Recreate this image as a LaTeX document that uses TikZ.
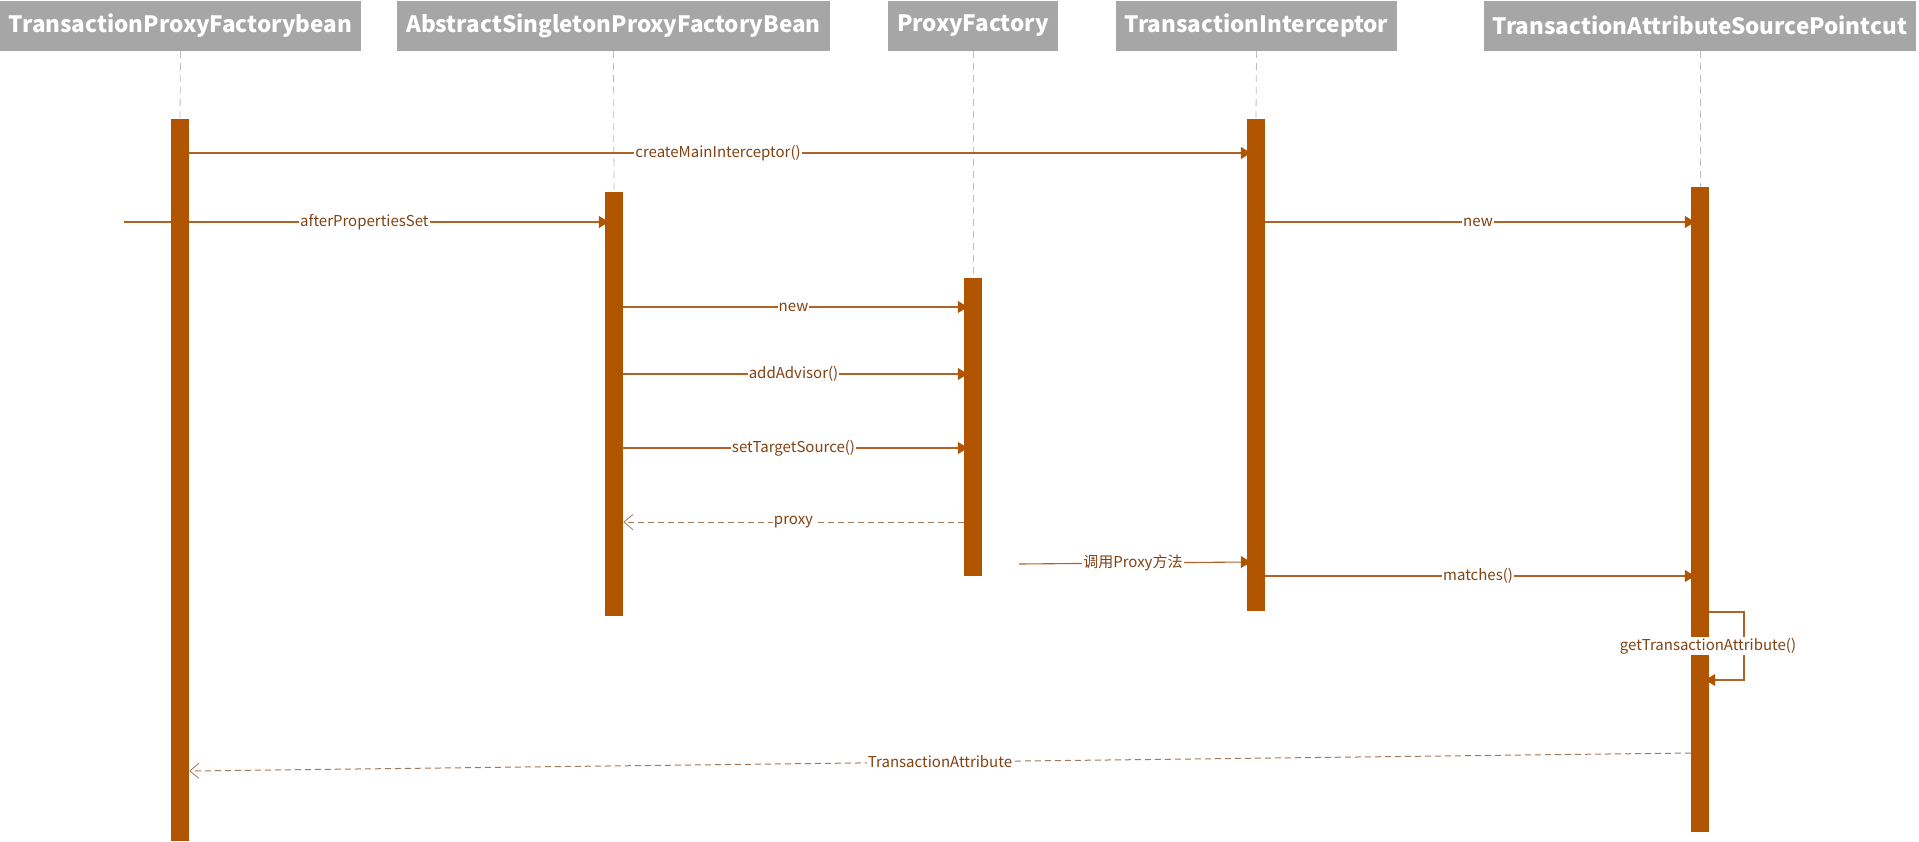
\documentclass[tikz,border=0pt]{standalone}
\usepackage{fontspec}
\setmainfont{Noto Sans CJK SC}
\usetikzlibrary{arrows.meta,positioning,calc,backgrounds}
\definecolor{hdrgray}{RGB}{166,166,166}
\definecolor{lifegray}{RGB}{190,190,190}
\definecolor{barcol}{RGB}{176,84,0}
\definecolor{msgcol}{RGB}{178,98,38}
\definecolor{retcol}{RGB}{160,120,90}
\definecolor{txtcol}{RGB}{130,66,18}
\tikzset{x=1pt, y=-1pt, % One unit per pixel, y pointing down
        header/.style={ % Grey boxes naming the objects
            fill=hdrgray, text=white, anchor=south,
            font=\bfseries\fontsize{22.5}{26}\selectfont,
            minimum height=50pt, inner xsep=9pt},
        lifeline/.style={draw=lifegray, line width=0.8pt, dash pattern=on 7pt off 5pt},
        bar/.style={ % Activation bars
            fill=barcol, minimum width=18pt, inner sep=0pt, anchor=north},
        msg/.style={ % Calls, with filled heads
            draw=msgcol, line width=1.1pt, shorten >=-4pt,
            -{Triangle[length=10pt,width=12pt,fill=barcol,color=barcol]}},
        ret/.style={ % Returns, dashed with open heads
            draw=retcol, line width=1pt, dash pattern=on 6pt off 4pt,
            -{Straight Barb[length=9pt,width=15pt,line width=0.8pt]}},
        lbl/.style={fill=white, text=txtcol, inner sep=1pt,
            font=\fontsize{15}{17}\selectfont}
        }
\begin{document}
\begin{tikzpicture}
    \useasboundingbox (0,0) rectangle (1919,841);
    % objects
    \node[header] (tpfb) at (180.5,51) {TransactionProxyFactorybean};
    \node[header] (aspfb) at (613.5,51) {AbstractSingletonProxyFactoryBean};
    \node[header] (pf) at (973,51) {ProxyFactory};
    \node[header] (ti) at (1256.5,51) {TransactionInterceptor};
    \node[header] (tasp) at (1700,51) {TransactionAttributeSourcePointcut};
    % activation bars
    \node[bar, minimum height=722pt] (bar1) at (180,119) {};
    \node[bar, minimum height=424pt] (bar2) at (614,192) {};
    \node[bar, minimum height=298pt] (bar3) at (973,278) {};
    \node[bar, minimum height=492pt] (bar4) at (1256,119) {};
    \node[bar, minimum height=645pt] (bar5) at (1700,187) {};
    \foreach \o/\b in {tpfb/bar1, aspfb/bar2, pf/bar3, ti/bar4, tasp/bar5}
        \draw[lifeline] (\o.south) -- (\b.north);
    % messages
    \coordinate (start) at (124,222);
    \begin{scope}[on background layer]
        \draw[msg] (start) -- node[lbl] {afterPropertiesSet} (bar2.west |- start);
    \end{scope}
    \draw[msg] (bar1.east |- 0,153) -- node[lbl] {createMainInterceptor()} (bar4.west |- 0,153);
    \draw[msg] (bar4.east |- 0,222) -- node[lbl] {new} (bar5.west |- 0,222);
    \draw[msg] (bar2.east |- 0,307) -- node[lbl] {new} (bar3.west |- 0,307);
    \draw[msg] (bar2.east |- 0,374) -- node[lbl] {addAdvisor()} (bar3.west |- 0,374);
    \draw[msg] (bar2.east |- 0,448) -- node[lbl] {setTargetSource()} (bar3.west |- 0,448);
    \draw[ret] (bar3.west |- 0,522) -- node[lbl] {proxy} (bar2.east |- 0,522);
    \coordinate (call) at (1019,564);
    \draw[msg] (call) -- node[lbl] {调用Proxy方法} (bar4.west |- 0,562);
    \draw[msg] (bar4.east |- 0,576) -- node[lbl] {matches()} (bar5.west |- 0,576);
    \draw[msg] (bar5.east |- 0,612) -- (1744,612) -- (1744,680) -- (bar5.east |- 0,680);
    \node[lbl] (gta) at (1708,646) {getTransactionAttribute()};
    \draw[ret] (bar5.west |- 0,753) -- node[lbl] {TransactionAttribute} (bar1.east |- 0,771);
\end{tikzpicture}
\end{document}
